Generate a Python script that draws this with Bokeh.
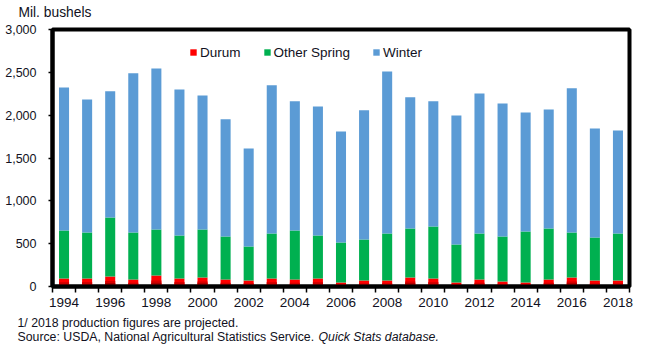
from bokeh.plotting import figure
from bokeh.layouts import column
from bokeh.models import ColumnDataSource, FixedTicker, NumeralTickFormatter, Label, Range1d, CustomJSTickFormatter
from bokeh.embed import file_html
from bokeh.resources import INLINE

years = list(range(1994, 2019))
durum = [93, 93, 117, 82, 128, 93, 105, 82, 70, 93, 82, 93, 47, 70, 70, 105, 93, 47, 82, 58, 47, 82, 105, 70, 70]
other_spring = [561, 538, 689, 549, 538, 503, 561, 502, 397, 526, 572, 503, 467, 479, 549, 572, 608, 444, 537, 526, 595, 595, 526, 502, 549]
winter = [1670, 1553, 1472, 1857, 1880, 1705, 1565, 1367, 1145, 1729, 1507, 1506, 1296, 1507, 1892, 1531, 1460, 1506, 1635, 1553, 1390, 1390, 1682, 1273, 1203]
series = ["Durum", "Other Spring", "Winter"]
y_ticks = [0, 500, 1000, 1500, 2000, 2500, 3000]
x_label_years = years[::2]

FONT = "Liberation Sans"
TXT = "#111122"
W = 648


def text_strip(height):
    f = figure(width=W, height=height, output_backend="svg", toolbar_location=None,
               x_range=Range1d(0, W), y_range=Range1d(height, 0),
               x_axis_type=None, y_axis_type=None, min_border=0, frame_align=False)
    f.outline_line_color = None
    f.xgrid.visible = False
    f.ygrid.visible = False
    return f


# ---- top strip: unit label
top = text_strip(22)
top.add_layout(Label(x=18, y=12, text="Mil. bushels", text_font=FONT, text_font_size="13.8px",
                     text_color=TXT, text_baseline="middle"))

# ---- main chart
src = ColumnDataSource(dict(x=years, Durum=durum, **{"Other Spring": other_spring}, Winter=winter,
                            d60=[v * 0.55 for v in durum], d35=[v * 0.35 for v in durum],
                            d15=[v * 0.17 for v in durum]))

p = figure(width=W, height=292, output_backend="svg", toolbar_location=None, frame_align=False,
           x_range=Range1d(years[0] - 0.5, years[-1] + 0.5), y_range=Range1d(0, 3000),
           min_border_left=52, min_border_right=19, min_border_top=7, min_border_bottom=28)

p.vbar_stack(series, x="x", width=0.435, source=src,
             color=["#ff0000", "#00b050", "#5b9bd5"], line_color=None,
             legend_label=series)
# gradient shading on durum bars
for col, c in [("d60", "#d80000"), ("d35", "#a80000"), ("d15", "#700000")]:
    p.vbar(x="x", top=col, bottom=0, width=0.435, source=src, color=c, line_color=None)

p.xgrid.visible = False
p.ygrid.visible = False
p.outline_line_color = "black"
p.outline_line_width = 4
p.background_fill_color = "white"
p.border_fill_color = "white"

ya = p.yaxis[0]
ya.ticker = FixedTicker(ticks=y_ticks, minor_ticks=[])
ya.formatter = NumeralTickFormatter(format="0,0")
ya.axis_line_width = 4
ya.axis_line_color = "black"
ya.major_tick_in = 0
ya.major_tick_out = 4
ya.major_tick_line_width = 1.5
ya.major_label_standoff = 12
ya.major_label_text_font = FONT
ya.major_label_text_font_size = "12.5px"
ya.major_label_text_color = TXT

xa = p.xaxis[0]
xa.ticker = FixedTicker(ticks=x_label_years, minor_ticks=[y - 0.5 for y in years] + [years[-1] + 0.5])
xa.formatter = CustomJSTickFormatter(code="return tick.toFixed(0);")
xa.axis_line_width = 4
xa.axis_line_color = "black"
xa.major_tick_line_color = None
xa.major_tick_in = 0
xa.major_tick_out = 0
xa.minor_tick_in = 0
xa.minor_tick_out = 6
xa.minor_tick_line_width = 1.5
xa.minor_tick_line_color = "black"
xa.major_label_standoff = 5
xa.major_label_text_font = FONT
xa.major_label_text_font_size = "13.5px"
xa.major_label_text_color = TXT

lg = p.legend[0]
lg.orientation = "horizontal"
lg.location = (137, 226)
lg.glyph_width = 8
lg.glyph_height = 8
lg.label_height = 16
lg.label_standoff = 3
lg.spacing = 22
lg.padding = 0
lg.margin = 0
lg.border_line_color = None
lg.background_fill_alpha = 0
lg.label_text_font = FONT
lg.label_text_font_size = "13.5px"
lg.label_text_color = TXT

# ---- footnote strip
foot = text_strip(36)
foot.add_layout(Label(x=17, y=8.5, text="1/ 2018 production figures are projected.",
                      text_font=FONT, text_font_size="12.3px", text_color=TXT, text_baseline="middle"))
foot.add_layout(Label(x=17, y=22, text="Source:  USDA, National Agricultural Statistics Service.",
                      text_font=FONT, text_font_size="12.3px", text_color=TXT, text_baseline="middle"))
foot.add_layout(Label(x=318, y=22, text="Quick Stats database.", text_font_style="italic",
                      text_font=FONT, text_font_size="12.3px", text_color=TXT, text_baseline="middle"))

layout = column(top, p, foot, spacing=0)
open("out.html", "w").write(file_html(layout, INLINE))
